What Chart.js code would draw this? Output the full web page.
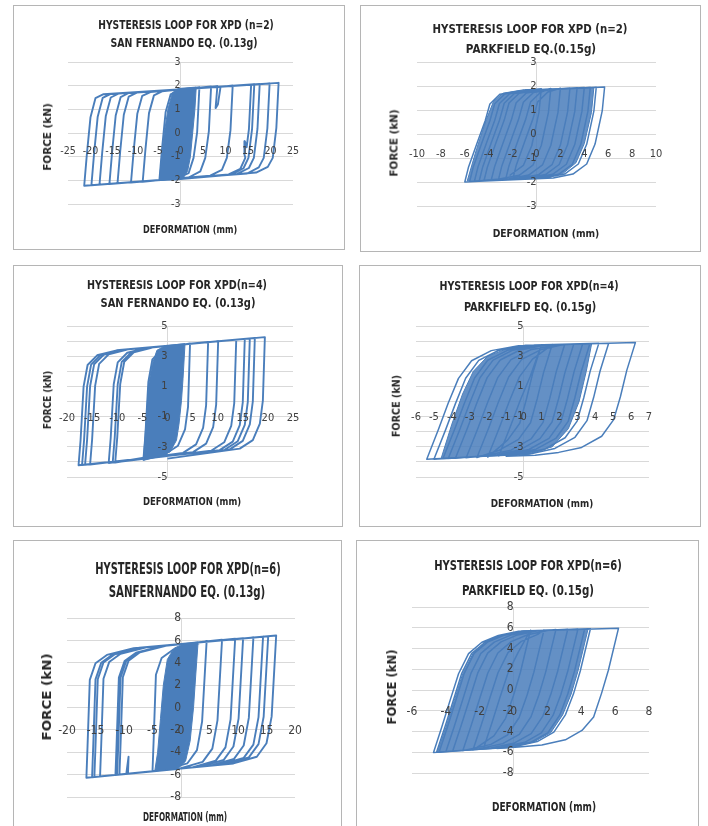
<!DOCTYPE html>
<html>
<head>
<meta charset="utf-8">
<script src="https://cdn.jsdelivr.net/npm/chart.js@4.4.0/dist/chart.umd.min.js"></script>
<style>
  body { margin: 0; width: 708px; height: 826px; overflow: hidden; position: relative; background: #fff;
         font-family: "Liberation Sans Narrow", "DejaVu Sans Condensed", "Liberation Sans", sans-serif; }
  .frame { position: absolute; border: 1px solid #b5b5b5; box-sizing: border-box; }
  canvas { position: absolute; }
  .lbl { position: absolute; white-space: nowrap; font-weight: bold; color: #262626; line-height: 1; }
</style>
</head>
<body>
<script>
// ---- data (deformation mm, force kN) ----

// San Fernando, n=2
const sf2Title = ['HYSTERESIS LOOP FOR XPD (n=2)', 'SAN FERNANDO EQ. (0.13g)'];
const sf2XAxis = [-25, 25, 5];
const sf2YAxis = [-3, 3, 1];
const sf2Path = [
  [-4.7,-2.01],[-4.1,-0.66],[-3.3,0.89],[-2.2,1.63],[-0.4,1.8],
  [4.2,1.94],[3.7,0.04],[2.9,-1.05],[1.8,-1.7],[-0.8,-1.91],
  [-8.4,-2.06],[-7.8,-0.71],[-7.0,0.84],[-5.9,1.59],[-4.1,1.76],
  [6.8,1.97],[6.3,0.07],[5.5,-1.05],[4.4,-1.62],[1.8,-1.88],
  [-11,-2.09],[-10.4,-0.74],[-9.6,0.81],[-8.5,1.57],[-6.7,1.73],
  [8.2,1.98],[7.8,1.05],[8.3,1.2],[8.9,1.95],
  [11.6,2.01],[11.1,0.11],[10.3,-1.05],[9.2,-1.56],[6.6,-1.8],
  [-14,-2.13],[-13.4,-0.78],[-12.6,0.77],[-11.5,1.54],[-9.7,1.71],
  [15.7,2.05],[15.2,0.15],[14.7,-0.6],[14.3,-0.35],[14.2,-0.9],[14.4,-1.05],[13.3,-1.51],[10.7,-1.75],
  [-15.8,-2.16],[-15.2,-0.81],[-14.4,0.74],[-13.3,1.52],[-11.5,1.69],
  [16.4,2.06],[15.9,0.16],[15.1,-1.05],[14,-1.49],[11.4,-1.75],
  [-18,-2.18],[-17.4,-0.83],[-16.6,0.72],[-15.5,1.5],[-13.7,1.67],
  [17.6,2.07],[17.1,0.17],[16.3,-1.05],[15.2,-1.48],[12.6,-1.73],
  [-19.8,-2.21],[-19.2,-0.86],[-18.4,0.69],[-17.3,1.48],[-15.5,1.65],
  [19.8,2.09],[19.3,0.19],[18.5,-1.05],[17.4,-1.45],[14.8,-1.71],
  [-21.4,-2.23],[-20.8,-0.88],[-20,0.67],[-18.9,1.47],[-17.1,1.64],
  [21.8,2.12],[21.3,0.22],[20.5,-1.05],[19.4,-1.43],[16.8,-1.67],
  [-2,-1.98]
];
const sf2Core = [
  [-4.7,-2.01],[-4.2,-1],[-3.6,0],[-2.8,1],[-1.8,1.7],[-0.5,1.88],[3.5,1.94],
  [3.2,1],[2.7,0],[2.2,-1],[1.6,-1.6],[0.5,-1.93],[-4.7,-2.01]
];

// Parkfield, n=2
const pf2Title = ['HYSTERESIS LOOP FOR XPD (n=2)', 'PARKFIELD EQ.(0.15g)'];
const pf2XAxis = [-10, 10, 2];
const pf2YAxis = [-3, 3, 1];
const pf2Path = [
  [-2,-1.91],[-1.7,-1.31],[-1.0,-0.33],[-0.3,0.63],[0.1,1.34],[0.95,1.75],
  [2,1.91],[1.8,0.91],[1.2,-0.47],[0.5,-1.29],[-0.65,-1.71],[-2.3,-1.86],
  [-3.2,-1.93],[-2.9,-1.33],[-2.2,-0.35],[-1.5,0.61],[-1.1,1.32],[-0.25,1.73],[1.4,1.86],
  [3.4,1.93],[3.2,0.93],[2.6,-0.45],[1.9,-1.27],[0.75,-1.69],[-0.9,-1.84],
  [-4.4,-1.96],[-4.1,-1.36],[-3.4,-0.38],[-2.7,0.58],[-2.3,1.29],[-1.45,1.7],[0.2,1.83],
  [4.5,1.94],[4.3,0.94],[3.7,-0.44],[3.0,-1.26],[1.85,-1.68],[0.2,-1.83],
  [-5.2,-1.98],[-4.9,-1.38],[-4.2,-0.4],[-3.5,0.56],[-3.1,1.27],[-2.25,1.68],[-0.6,1.81],
  [5.0,1.95],[4.8,0.95],[4.2,-0.43],[3.5,-1.25],[2.35,-1.67],[0.7,-1.82],
  [-6,-2.0],[-5.7,-1.4],[-5.0,-0.42],[-4.3,0.54],[-3.9,1.25],[-3.05,1.66],[-1.4,1.79],
  [5.7,1.96],[5.5,0.96],[4.9,-0.42],[4.2,-1.25],[3.05,-1.67],[1.4,-1.83],
  [-4.8,-1.97],[-4.5,-1.37],[-3.8,-0.39],[-3.1,0.57],[-2.7,1.28],[-1.85,1.69],[-0.2,1.82],
  [4,1.94],[3.8,0.94],[3.2,-0.44],[2.5,-1.26],[1.35,-1.68],[-0.3,-1.83],
  [-3.8,-1.95],[-3.5,-1.35],[-2.8,-0.37],[-2.1,0.59],[-1.7,1.3],[-0.85,1.71],[0.8,1.84],
  [2.8,1.92],[2.6,0.92],[2.0,-0.46],[1.3,-1.28],[0.15,-1.7],[-1.5,-1.85],
  [-2.6,-1.92],[-2.3,-1.32],[-1.6,-0.34],[-0.9,0.62],[-0.5,1.33],[0.35,1.74],
  [1.2,1.9],[1.0,0.9],[0.4,-0.48],[-0.3,-1.3],[-1.45,-1.72],[-3.1,-1.87],
  [-5.6,-1.99],[-5.3,-1.39],[-4.6,-0.41],[-3.9,0.55],[-3.5,1.26],[-2.65,1.67],[-1.0,1.8],
  [0.4,1.89],[0.2,0.89],[-0.4,-0.49],[-1.1,-1.31],[-2.25,-1.73]
];
const pf2Core = [
  [-5.8,-1.96],[-5.0,-0.6],[-4.2,0.6],[-3.6,1.35],[-2.8,1.7],[-1,1.85],[4.8,1.93],
  [4.6,0.9],[4.0,-0.4],[3.3,-1.2],[2.2,-1.65],[0.5,-1.84],[-5.8,-1.96]
];

// San Fernando, n=4
const sf4Title = ['HYSTERESIS LOOP FOR XPD(n=4)', 'SAN FERNANDO EQ. (0.13g)'];
const sf4XAxis = [-20, 25, 5];
const sf4YAxis = [-5, 5, 1];
const sf4Path = [
  [-4.8,-3.9],[-4.4,-2.25],[-3.8,1.3],[-3.0,2.79],[-1.1,3.42],[2.8,3.75],
  [4.5,3.85],[4.1,-0.35],[3.5,-1.84],[2.1,-2.93],[-0.5,-3.49],
  [-10.4,-4.04],[-10.0,-2.39],[-9.4,1.16],[-8.6,2.63],[-6.7,3.26],[-2.8,3.59],
  [8.1,3.95],[7.7,-0.25],[7.1,-1.75],[5.7,-2.84],[3.1,-3.4],
  [-11.7,-4.07],[-11.3,-2.42],[-10.7,1.13],[-9.9,2.59],[-8.0,3.23],[-4.1,3.55],
  [10.1,4.0],[9.7,-0.2],[9.1,-1.7],[7.7,-2.79],[5.1,-3.35],
  [-15.4,-4.17],[-15.0,-2.52],[-14.4,1.03],[-13.6,2.49],[-11.7,3.12],[-7.8,3.45],
  [13.7,4.1],[13.3,-0.1],[12.7,-1.61],[11.3,-2.7],[8.7,-3.26],
  [-10.9,-4.05],[-10.5,-2.4],[-9.9,1.15],[-9.1,2.62],[-7.2,3.25],[-3.3,3.58],
  [15.4,4.15],[15.0,-0.05],[14.4,-1.57],[13.0,-2.66],[10.4,-3.22],
  [-16.4,-4.19],[-16.0,-2.54],[-15.4,1.01],[-14.6,2.46],[-12.7,3.09],[-8.8,3.42],
  [16.4,4.18],[16.0,-0.02],[15.4,-1.55],[14.0,-2.63],[11.4,-3.2],
  [-17.0,-4.21],[-16.6,-2.56],[-16.0,0.99],[-15.2,2.44],[-13.3,3.08],[-9.4,3.41],
  [17.4,4.21],[17.0,0.01],[16.4,-1.52],[15.0,-2.61],[12.4,-3.17],
  [-17.7,-4.22],[-17.3,-2.57],[-16.7,0.98],[-15.9,2.42],[-14.0,3.06],[-10.1,3.39],
  [19.4,4.26],[19.0,0.06],[18.4,-1.47],[17.0,-2.56],[14.4,-3.12],
  [0,-3.78]
];
const sf4Core = [
  [-4.8,-3.9],[-4.3,-1.5],[-3.8,0.96],[-3.0,2.5],[-2.1,3.39],[-0.5,3.68],[3.5,3.83],
  [3.1,1.5],[2.8,0.08],[2.3,-1.5],[1.8,-2.57],[0.5,-3.34],[-2.1,-3.68],[-4.8,-3.9]
];

// Parkfield, n=4
const pf4Title = ['HYSTERESIS LOOP FOR XPD(n=4)', 'PARKFIELFD EQ. (0.15g)'];
const pf4XAxis = [-6, 7, 1];
const pf4YAxis = [-5, 5, 1];
const pf4Path = [
  [-1.4,-3.65],[-0.75,-1.71],[-0.2,0.03],[0.37,1.65],
  [1.0,3.75],[0.52,1.91],[0.16,0.15],[-0.21,-1.44],[-0.88,-2.54],
  [-2.0,-3.68],[-1.35,-1.74],[-0.8,0],[-0.23,1.63],[0.5,2.81],
  [1.6,3.77],[1.12,1.93],[0.76,0.17],[0.39,-1.41],[-0.28,-2.51],[-1.4,-3.25],
  [-2.6,-3.71],[-1.95,-1.77],[-1.4,-0.03],[-0.83,1.62],[-0.1,2.79],[1.0,3.45],
  [2.3,3.79],[1.82,1.95],[1.46,0.19],[1.09,-1.38],[0.42,-2.48],[-0.7,-3.22],[-1.98,-3.55],
  [-3.2,-3.73],[-2.55,-1.79],[-2.0,-0.05],[-1.43,1.6],[-0.7,2.77],[0.4,3.43],[1.92,3.78],
  [2.8,3.8],[2.32,1.96],[1.96,0.2],[1.59,-1.36],[0.92,-2.46],[-0.2,-3.2],[-1.48,-3.53],
  [-3.8,-3.76],[-3.15,-1.82],[-2.6,-0.08],[-2.03,1.58],[-1.3,2.75],[-0.2,3.41],[1.32,3.76],
  [3.3,3.82],[2.82,1.98],[2.46,0.22],[2.09,-1.34],[1.42,-2.44],[0.3,-3.18],[-0.98,-3.5],
  [-4.2,-3.78],[-3.55,-1.84],[-3.0,-0.1],[-2.43,1.57],[-1.7,2.74],[-0.6,3.4],[0.92,3.75],
  [3.7,3.83],[3.22,1.99],[2.86,0.23],[2.49,-1.32],[1.82,-2.42],[0.7,-3.16],[-0.58,-3.49],
  [-4.5,-3.79],[-3.85,-1.85],[-3.3,-0.11],[-2.73,1.56],[-2.0,2.73],[-0.9,3.39],[0.62,3.74],
  [4.2,3.85],[3.72,2.01],[3.36,0.25],[2.99,-1.3],[2.32,-2.4],[1.2,-3.14],[-0.08,-3.46],
  [-5.0,-3.82],[-4.35,-1.88],[-3.8,-0.14],[-3.23,1.54],[-2.5,2.72],[-1.4,3.38],[0.12,3.72],
  [4.75,3.86],[4.27,2.02],[3.91,0.26],[3.54,-1.27],[2.87,-2.37],[1.75,-3.11],[0.47,-3.44],
  [-5.4,-3.83],[-4.75,-1.86],[-4.2,-0.1],[-3.63,1.53],[-2.9,2.7],[-1.8,3.37],[-0.28,3.7],
  [6.24,3.9],[5.76,2.06],[5.4,0.3],[5.03,-1.2],[4.36,-2.3],[3.24,-3.04],[1.96,-3.37],[0.65,-3.56],
  [-1,-3.62]
];
const pf4Core = [
  [-4.6,-3.78],[-4.0,-1.5],[-3.4,0.5],[-2.8,2.0],[-2.0,3.0],[-0.8,3.55],[1,3.7],[3.8,3.83],
  [3.5,2.0],[3.1,0],[2.5,-1.8],[1.6,-3.0],[0.3,-3.5],[-4.6,-3.78]
];

// San Fernando, n=6
const sf6Title = ['HYSTERESIS LOOP FOR XPD(n=6)', 'SANFERNANDO EQ. (0.13g)'];
const sf6XAxis = [-20, 20, 5];
const sf6YAxis = [-8, 8, 2];
const sf6Path = [
  [-5,-5.7],[-4.8,-2.92],[-4.4,2.93],[-3.4,4.42],[-1.4,5.16],[3.3,5.76],
  [4.5,5.94],[3.7,-1.26],[2.8,-3.81],[1.1,-5.0],[-3.0,-5.6],
  [-10.8,-5.99],[-10.6,-3.21],[-10.2,2.7],[-9.2,4.19],[-7.2,4.93],[-2.5,5.53],
  [7.2,6.05],[6.4,-1.15],[5.5,-3.68],[3.8,-4.86],[-0.3,-5.47],
  [-11.5,-6.03],[-11.3,-3.25],[-10.9,2.67],[-9.9,4.16],[-7.9,4.9],[-3.2,5.5],
  [9.5,6.14],[8.7,-1.06],[7.8,-3.56],[6.1,-4.75],[2.0,-5.35],
  [-14.2,-6.16],[-14.0,-3.38],[-13.6,2.57],[-12.6,4.06],[-10.6,4.8],[-5.9,5.39],
  [10.9,6.2],[10.1,-1.0],[9.2,-3.49],[7.5,-4.68],[3.4,-5.28],
  [-11.2,-6.01],[-11.0,-3.23],[-10.6,2.69],[-9.6,4.18],[-7.6,4.92],[-2.9,5.51],
  [12.7,6.27],[11.9,-0.93],[11.0,-3.4],[9.3,-4.59],[5.2,-5.19],
  [-9.3,-5.92],[-9.2,-4.4],[-9.6,-5.93],
  [-15.2,-6.21],[-15.0,-3.43],[-14.6,2.53],[-13.6,4.02],[-11.6,4.76],[-6.9,5.35],
  [14.4,6.34],[13.6,-0.86],[12.7,-3.32],[11.0,-4.5],[6.9,-5.1],
  [-15.6,-6.23],[-15.4,-3.45],[-15.0,2.51],[-14.0,4.0],[-12.0,4.74],[-7.3,5.34],
  [15.3,6.37],[14.5,-0.83],[13.6,-3.27],[11.9,-4.46],[7.8,-5.06],
  [-16.6,-6.28],[-16.4,-3.5],[-16.0,2.47],[-15.0,3.96],[-13.0,4.7],[-8.3,5.3],
  [16.7,6.43],[15.9,-0.82],[15.0,-3.2],[13.3,-4.4],[9.2,-5.0],
  [0,-5.45]
];
const sf6Core = [
  [-4.6,-5.68],[-4.1,-4],[-3.6,-1],[-3.1,2],[-2.4,4.3],[-1.2,5.3],[0.5,5.7],[3.0,5.85],
  [2.6,3],[2.2,0],[1.6,-3],[0.8,-4.8],[-0.5,-5.45],[-4.6,-5.68]
];

// Parkfield, n=6
const pf6Title = ['HYSTERESIS LOOP FOR XPD(n=6)', 'PARKFIELD EQ. (0.15g)'];
const pf6XAxis = [-6, 8, 2];
const pf6YAxis = [-8, 8, 2];
const pf6Path = [
  [-1.8,-5.73],[-1.31,-3.32],[-0.82,-0.8],[-0.32,1.69],[0.27,3.62],
  [1.0,5.76],[0.4,1.69],[0.0,-0.51],[-0.47,-2.73],[-1.16,-4.42],
  [-2.4,-5.79],[-1.91,-3.38],[-1.42,-0.86],[-0.92,1.66],[-0.33,3.6],[0.46,4.69],[1.43,5.36],
  [1.8,5.79],[1.2,1.72],[0.8,-0.48],[0.33,-2.65],[-0.36,-4.34],[-1.34,-5.24],
  [-3.0,-5.85],[-2.51,-3.44],[-2.02,-0.92],[-1.52,1.64],[-0.93,3.57],[-0.14,4.66],[0.83,5.33],[2.03,5.74],
  [2.5,5.82],[1.9,1.75],[1.5,-0.45],[1.03,-2.58],[0.34,-4.27],[-0.64,-5.17],[-2.03,-5.67],
  [-3.6,-5.91],[-3.11,-3.5],[-2.62,-0.98],[-2.12,1.62],[-1.53,3.55],[-0.74,4.64],[0.23,5.31],[1.43,5.72],
  [3.2,5.85],[2.6,1.78],[2.2,-0.42],[1.73,-2.51],[1.04,-4.2],[0.06,-5.1],[-1.33,-5.6],
  [-4.0,-5.95],[-3.51,-3.54],[-3.02,-1.02],[-2.52,1.6],[-1.93,3.53],[-1.14,4.62],[-0.17,5.29],[1.03,5.7],
  [3.8,5.87],[3.2,1.8],[2.8,-0.4],[2.33,-2.45],[1.64,-4.14],[0.66,-5.04],[-0.73,-5.54],
  [-4.4,-5.99],[-3.91,-3.58],[-3.42,-1.06],[-2.92,1.58],[-2.33,3.52],[-1.54,4.61],[-0.57,5.28],[0.63,5.69],
  [4.2,5.89],[3.6,1.82],[3.2,-0.38],[2.73,-2.41],[2.04,-4.1],[1.06,-5.0],[-0.33,-5.5],
  [-4.55,-6.0],[-4.06,-3.59],[-3.57,-1.07],[-3.07,1.58],[-2.48,3.51],[-1.69,4.6],[-0.72,5.27],[0.48,5.68],
  [4.54,5.9],[3.94,1.83],[3.54,-0.37],[3.07,-2.37],[2.38,-4.06],[1.4,-4.97],[0.01,-5.47],
  [-4.73,-6.02],[-4.24,-3.56],[-3.75,-1.0],[-3.25,1.57],[-2.66,3.5],[-1.87,4.6],[-0.9,5.26],[0.3,5.67],
  [6.2,5.96],[5.6,1.9],[5.2,-0.3],[4.73,-2.6],[4.04,-3.9],[3.06,-4.8],[1.67,-5.3],[0.3,-5.5],
  [-1,-5.65]
];
const pf6Core = [
  [-4.5,-6.0],[-4.0,-3.6],[-3.5,-1.0],[-3.0,1.6],[-2.4,3.5],[-1.6,4.6],[-0.6,5.3],[0.6,5.7],[4.4,5.88],
  [3.8,1.8],[3.4,-0.4],[2.9,-2.4],[2.2,-4.1],[1.2,-5.0],[-0.2,-5.55],[-4.5,-6.0]
];

const yName = 'FORCE (kN)';
const xName = 'DEFORMATION (mm)';

// ---- styling / layout ----
const BLUE = '#4a7ebb';
const SHADE = 'rgba(74,126,187,0.86)';
const GRID = '#d9d9d9';
const TICK = '#404040';
const FONT = '"Liberation Sans Narrow", "DejaVu Sans Condensed", "Liberation Sans", sans-serif';

// box: left, top, width, height; pad: plot-area padding l, t, r, b
// t1/t2/yt/xt: centre x, centre y, text width
const panels = [
  { path: sf2Path, core: sf2Core, fill: BLUE, xa: sf2XAxis, ya: sf2YAxis, title: sf2Title,
    box: [13, 5, 332, 245], pad: [55, 57, 52, 46], tick: 10.5, xOff: 12, lw: 1.9,
    t1: [186, 25, 176], t2: [183.5, 43, 147], ts: 12, yt: [48, 137, 67], xt: [190, 230, 94], as: 10 },
  { path: pf2Path, core: pf2Core, fill: SHADE, xa: pf2XAxis, ya: pf2YAxis, title: pf2Title,
    box: [360, 5, 341, 247], pad: [57, 57, 45, 46], tick: 11, xOff: 14, lw: 1.5,
    t1: [530, 28, 195], t2: [531, 48, 130], ts: 13, yt: [394, 143, 67], xt: [545.7, 233, 107], as: 11 },
  { path: sf4Path, core: sf4Core, fill: BLUE, xa: sf4XAxis, ya: sf4YAxis, title: sf4Title,
    box: [13, 265, 330, 262], pad: [54, 61, 50, 50], tick: 11, xOff: 10, lw: 1.9,
    t1: [177, 285, 180], t2: [177.5, 303.3, 155], ts: 12, yt: [48.3, 400, 58], xt: [191.7, 501.7, 98], as: 10 },
  { path: pf4Path, core: pf4Core, fill: SHADE, xa: pf4XAxis, ya: pf4YAxis, title: pf4Title,
    box: [359, 265, 342, 262], pad: [57, 61, 52, 50], tick: 11, xOff: 9, lw: 1.5,
    t1: [529, 286, 179], t2: [530, 306.7, 132], ts: 12.5, yt: [395.7, 406, 62], xt: [542.3, 503.3, 102], as: 10.5 },
  { path: sf6Path, core: sf6Core, fill: BLUE, xa: sf6XAxis, ya: sf6YAxis, title: sf6Title,
    box: [13, 540, 329, 290], pad: [54, 78, 47, 33], tick: 12, xOff: 16, lw: 1.9,
    t1: [187.5, 569, 185], t2: [186.7, 591.7, 157], ts: 15, yt: [46.7, 696.7, 87], xt: [185, 816.7, 84], as: 12 },
  { path: pf6Path, core: pf6Core, fill: SHADE, xa: pf6XAxis, ya: pf6YAxis, title: pf6Title,
    box: [356, 540, 343, 290], pad: [56, 67, 50, 57], tick: 12, xOff: 15, lw: 1.5,
    t1: [528, 565, 188], t2: [528, 590, 132], ts: 14, yt: [392.3, 686.7, 75], xt: [544, 806.7, 104], as: 12 }
];

function pts(a) {
  return a.map(p => ({ x: p[0], y: p[1] }));
}

function addText(str, spec, size, rotate) {
  const d = document.createElement('div');
  d.className = 'lbl';
  d.textContent = str;
  d.style.left = spec[0] + 'px';
  d.style.top = spec[1] + 'px';
  d.style.fontSize = size + 'px';
  document.body.appendChild(d);
  const s = spec[2] / d.offsetWidth;
  d.style.transform = 'translate(-50%,-50%)' + (rotate ? ' rotate(-90deg)' : '') + ' scaleX(' + s.toFixed(3) + ')';
}

function drawPanel(p) {
  const [bx, by, bw, bh] = p.box;
  const frame = document.createElement('div');
  frame.className = 'frame';
  Object.assign(frame.style, { left: bx + 'px', top: by + 'px', width: bw + 'px', height: bh + 'px' });
  document.body.appendChild(frame);

  const cv = document.createElement('canvas');
  cv.width = bw;
  cv.height = bh;
  Object.assign(cv.style, { left: bx + 'px', top: by + 'px' });
  document.body.appendChild(cv);

  const tickFont = { family: FONT, size: p.tick };
  new Chart(cv, {
    type: 'scatter',
    data: {
      datasets: [
        { data: pts(p.core), showLine: true, fill: 'shape', backgroundColor: p.fill,
          borderColor: BLUE, borderWidth: 1, pointRadius: 0, xAxisID: 'x', yAxisID: 'y' },
        { data: pts(p.path), showLine: true, fill: false, borderColor: BLUE, borderWidth: p.lw,
          borderJoinStyle: 'round', pointRadius: 0, xAxisID: 'x', yAxisID: 'y' }
      ]
    },
    options: {
      responsive: false,
      animation: false,
      events: [],
      layout: { padding: { left: p.pad[0], top: p.pad[1], right: p.pad[2], bottom: p.pad[3] } },
      plugins: { legend: { display: false }, tooltip: { enabled: false } },
      scales: {
        x: { type: 'linear', min: p.xa[0], max: p.xa[1], position: { y: 0 },
             ticks: { z: 1, stepSize: p.xa[2], font: tickFont, color: TICK, padding: p.xOff, maxRotation: 0, autoSkip: false },
             grid: { display: false, drawTicks: false }, border: { display: false } },
        y: { type: 'linear', min: p.ya[0], max: p.ya[1], position: { x: 0 },
             ticks: { display: false, stepSize: p.ya[2] },
             grid: { color: GRID, drawTicks: false }, border: { color: GRID } },
        yTicks: { type: 'linear', axis: 'y', min: p.ya[0], max: p.ya[1], position: { x: 0 },
             ticks: { z: 1, stepSize: p.ya[2], font: tickFont, color: TICK, padding: 0 },
             grid: { display: false, drawTicks: false }, border: { display: false } }
      }
    }
  });

  addText(p.title[0], p.t1, p.ts, false);
  addText(p.title[1], p.t2, p.ts, false);
  addText(yName, p.yt, p.as, true);
  addText(xName, p.xt, p.as, false);
}

panels.forEach(drawPanel);
</script>
</body>
</html>
